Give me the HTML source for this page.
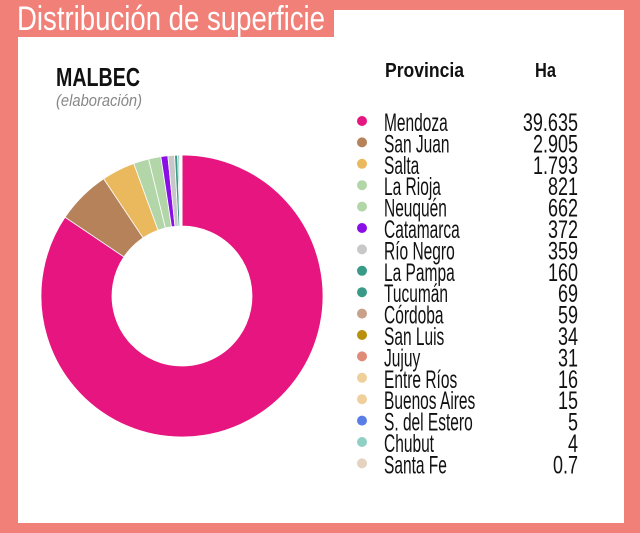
<!DOCTYPE html>
<html><head><meta charset="utf-8"><style>
html,body{margin:0;padding:0;width:640px;height:533px;overflow:hidden;background:#f08078;}
svg{display:block;font-family:"Liberation Sans",sans-serif;}
</style></head><body>
<svg id="chart" width="640" height="533" viewBox="0 0 640 533">
<rect x="0" y="0" width="640" height="533" fill="#f08078"/>
<rect x="18" y="10" width="606" height="513" fill="#ffffff"/>
<rect x="0" y="0" width="334" height="37" fill="#f08078"/>
<text class="cond" data-w="308" x="17" y="30" fill="#fff" font-size="34">Distribución de superficie</text>
<text class="cond" data-w="84" x="56" y="86" fill="#111" font-size="26" font-weight="bold">MALBEC</text>
<text class="cond" data-w="86" x="56" y="106" fill="#888" font-size="17" font-style="italic">(elaboración)</text>
<text class="cond" data-w="79" x="385" y="77" fill="#111" font-size="20" font-weight="bold">Provincia</text>
<text class="cond" data-w="21" x="535" y="77" fill="#111" font-size="20" font-weight="bold">Ha</text>
<g id="donut"></g>
<g id="legend"></g>
</svg>
<script>
const provinces=["Mendoza","San Juan","Salta","La Rioja","Neuquén","Catamarca","Río Negro","La Pampa","Tucumán","Córdoba","San Luis","Jujuy","Entre Ríos","Buenos Aires","S. del Estero","Chubut","Santa Fe"];
const hectares=[39635,2905,1793,821,662,372,359,160,69,59,34,31,16,15,5,4,0.7];
const labels=["39.635","2.905","1.793","821","662","372","359","160","69","59","34","31","16","15","5","4","0.7"];
const colors=["#e6157f","#b5825a","#eab95e","#b3d6a9","#b3d6a9","#8a0ee6","#c8c8c8","#3a9a88","#3a9a88","#c9a08a","#b8900c","#e08a78","#efd09a","#efd09a","#5a7ee8","#90cfc4","#e6d2c0"];
const NS="http://www.w3.org/2000/svg";
const cx=182,cy=296,R=141,r=70;
const total=hectares.reduce((a,b)=>a+b,0);
const donut=document.getElementById('donut');
let acc=0;
function pt(a,rad){return [cx+rad*Math.sin(a),cy-rad*Math.cos(a)];}
hectares.forEach((v,i)=>{
  const a0=acc/total*2*Math.PI; acc+=v; const a1=acc/total*2*Math.PI;
  const large=(a1-a0)>Math.PI?1:0;
  const [x0,y0]=pt(a0,R),[x1,y1]=pt(a1,R),[x2,y2]=pt(a1,r),[x3,y3]=pt(a0,r);
  const p=document.createElementNS(NS,'path');
  p.setAttribute('d',`M${x0},${y0}A${R},${R} 0 ${large} 1 ${x1},${y1}L${x2},${y2}A${r},${r} 0 ${large} 0 ${x3},${y3}Z`);
  p.setAttribute('fill',colors[i]);
  p.setAttribute('stroke','#fff');p.setAttribute('stroke-width','0.8');
  
  
  donut.appendChild(p);
});
const legend=document.getElementById('legend');
provinces.forEach((name,i)=>{
  const y=125+i*21.4;
  const c=document.createElementNS(NS,'circle');
  c.setAttribute('cx',362);c.setAttribute('cy',y-4);c.setAttribute('r',5);c.setAttribute('fill',colors[i]);
  
  
  legend.appendChild(c);
  const t=document.createElementNS(NS,'text');
  t.setAttribute('x',384);t.setAttribute('y',y+6);t.setAttribute('font-size','25');t.setAttribute('fill','#111');
  t.setAttribute('class','cond');t.setAttribute('data-k','0.62');
  t.textContent=name;
  
  
  legend.appendChild(t);
  const v=document.createElementNS(NS,'text');
  v.setAttribute('x',578);v.setAttribute('y',y+6);v.setAttribute('font-size','25');v.setAttribute('fill','#111');
  v.setAttribute('text-anchor','end');
  v.setAttribute('class','cond');v.setAttribute('data-k','0.72');
  v.textContent=labels[i];
  
  
  legend.appendChild(v);
});
document.querySelectorAll('text.cond').forEach(t=>{
  const w=t.getComputedTextLength();
  const target=t.getAttribute('data-w')?parseFloat(t.getAttribute('data-w')):w*parseFloat(t.getAttribute('data-k'));
  t.setAttribute('textLength',target.toFixed(1));
  t.setAttribute('lengthAdjust','spacingAndGlyphs');
});
</script>
</body></html>
